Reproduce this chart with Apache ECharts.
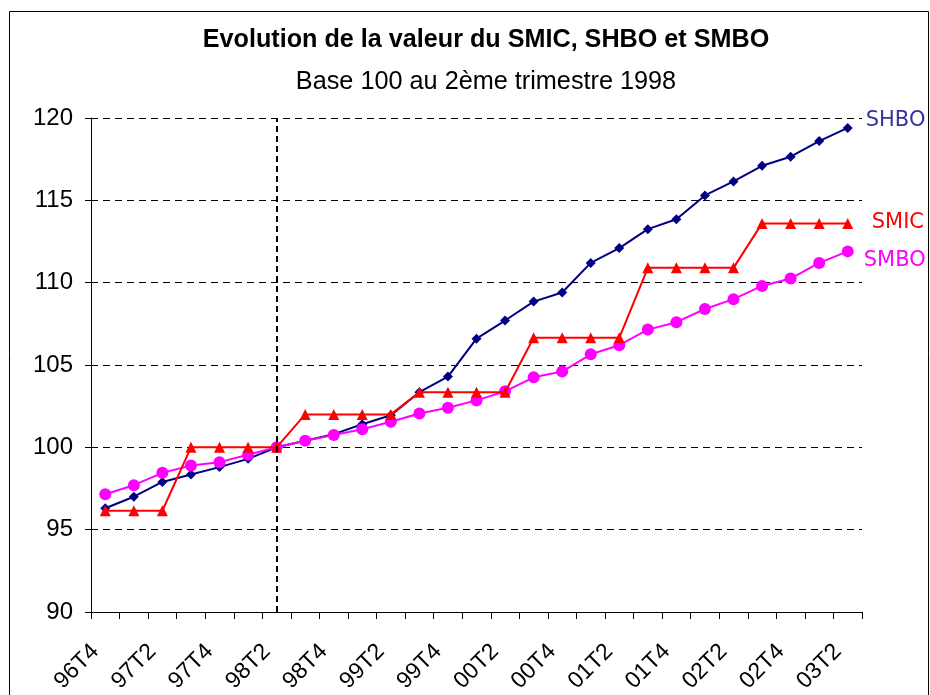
<!DOCTYPE html>
<html>
<head>
<meta charset="utf-8">
<script src="https://cdn.jsdelivr.net/npm/echarts@6/dist/echarts.min.js"></script>
<style>
html,body{margin:0;padding:0;background:#fff;}
#chart{width:930px;height:695px;}
</style>
</head>
<body>
<div id="chart"></div>
<script>
const categories = ['96T4','97T1','97T2','97T3','97T4','98T1','98T2','98T3','98T4','99T1','99T2','99T3','99T4','00T1','00T2','00T3','00T4','01T1','01T2','01T3','01T4','02T1','02T2','02T3','02T4','03T1','03T2'];
const shbo = [96.3, 97.0, 97.9, 98.35, 98.8, 99.3, 100, 100.4, 100.8, 101.4, 101.95, 103.35, 104.3, 106.6, 107.7, 108.85, 109.4, 111.2, 112.1, 113.25, 113.85, 115.3, 116.15, 117.1, 117.65, 118.6, 119.4];
const smic = [96.15, 96.15, 96.15, 100, 100, 100, 100, 102, 102, 102, 102, 103.35, 103.35, 103.35, 103.35, 106.65, 106.65, 106.65, 106.65, 110.9, 110.9, 110.9, 110.9, 113.6, 113.6, 113.6, 113.6];
const smbo = [97.15, 97.7, 98.45, 98.9, 99.1, 99.55, 100, 100.4, 100.75, 101.1, 101.55, 102.05, 102.4, 102.85, 103.4, 104.25, 104.6, 105.65, 106.2, 107.15, 107.6, 108.4, 109.0, 109.8, 110.25, 111.2, 111.9];
const baseQuarter = '98T2';
const titleText = 'Evolution de la valeur du SMIC, SHBO et SMBO';
const subtitleText = 'Base 100 au 2ème trimestre 1998';

const sans = '"Liberation Sans", Arial, sans-serif';
const labelFont = '"DejaVu Sans", Verdana, sans-serif';
const chart = echarts.init(document.getElementById('chart'), null, {renderer: 'canvas'});
chart.setOption({
  animation: false,
  backgroundColor: '#fff',
  graphic: [
    {
      type: 'rect', silent: true,
      shape: {x: 9.5, y: 11.5, width: 919, height: 700},
      style: {fill: null, stroke: '#000', lineWidth: 1}
    },
    {
      type: 'text', silent: true, x: 486, y: 40, scaleX: 0.95,
      style: {text: titleText, fontFamily: sans, fontWeight: 'bold', fontSize: 26.5, fill: '#000', align: 'center', verticalAlign: 'middle'}
    },
    {
      type: 'text', silent: true, x: 486, y: 82, scaleX: 0.99,
      style: {text: subtitleText, fontFamily: sans, fontWeight: 'normal', fontSize: 25.5, fill: '#000', align: 'center', verticalAlign: 'middle'}
    }
  ],
  grid: {left: 91, right: 68, top: 118, bottom: 83, containLabel: false, outerBoundsMode: 'none'},
  xAxis: {
    type: 'category',
    data: categories,
    boundaryGap: true,
    axisLine: {lineStyle: {color: '#000', width: 1}},
    axisTick: {show: true, inside: false, length: 7, lineStyle: {color: '#000'}, interval: 0},
    axisLabel: {interval: 1, rotate: 45, margin: 26, padding: [0, 14, 0, 0], fontFamily: sans, fontSize: 23, color: '#000'},
    splitLine: {show: false}
  },
  yAxis: {
    type: 'value',
    min: 90, max: 120, interval: 5,
    axisLine: {show: true, lineStyle: {color: '#000', width: 1}},
    axisTick: {show: true, length: 6, lineStyle: {color: '#000'}},
    axisLabel: {margin: 18, fontFamily: sans, fontSize: 24, color: '#000'},
    splitLine: {show: true, lineStyle: {color: '#000', type: [7, 5], width: 1}}
  },
  series: [
    {
      name: 'SHBO', type: 'line', data: shbo,
      symbol: 'diamond', symbolSize: 10,
      lineStyle: {color: '#000080', width: 2},
      itemStyle: {color: '#000080'},
      endLabel: {show: true, formatter: 'SHBO', distance: 18, offset: [0, -7], color: '#333399', fontFamily: labelFont, fontSize: 21},
      markLine: {
        silent: true, symbol: 'none', label: {show: false},
        lineStyle: {color: '#000', type: [6, 4], width: 2},
        data: [{xAxis: baseQuarter}]
      },
      z: 2
    },
    {
      name: 'SMBO', type: 'line', data: smbo,
      symbol: 'circle', symbolSize: 12,
      lineStyle: {color: '#ff00ff', width: 2},
      itemStyle: {color: '#ff00ff'},
      endLabel: {show: true, formatter: 'SMBO', distance: 16, offset: [0, 9], color: '#ff00ff', fontFamily: labelFont, fontSize: 21},
      z: 3
    },
    {
      name: 'SMIC', type: 'line', data: smic,
      symbol: 'triangle', symbolSize: 11,
      lineStyle: {color: '#ff0000', width: 2},
      itemStyle: {color: '#ff0000'},
      endLabel: {show: true, formatter: 'SMIC', distance: 24, offset: [0, -1], color: '#ff0000', fontFamily: labelFont, fontSize: 21},
      z: 4
    }
  ]
});
</script>
</body>
</html>
